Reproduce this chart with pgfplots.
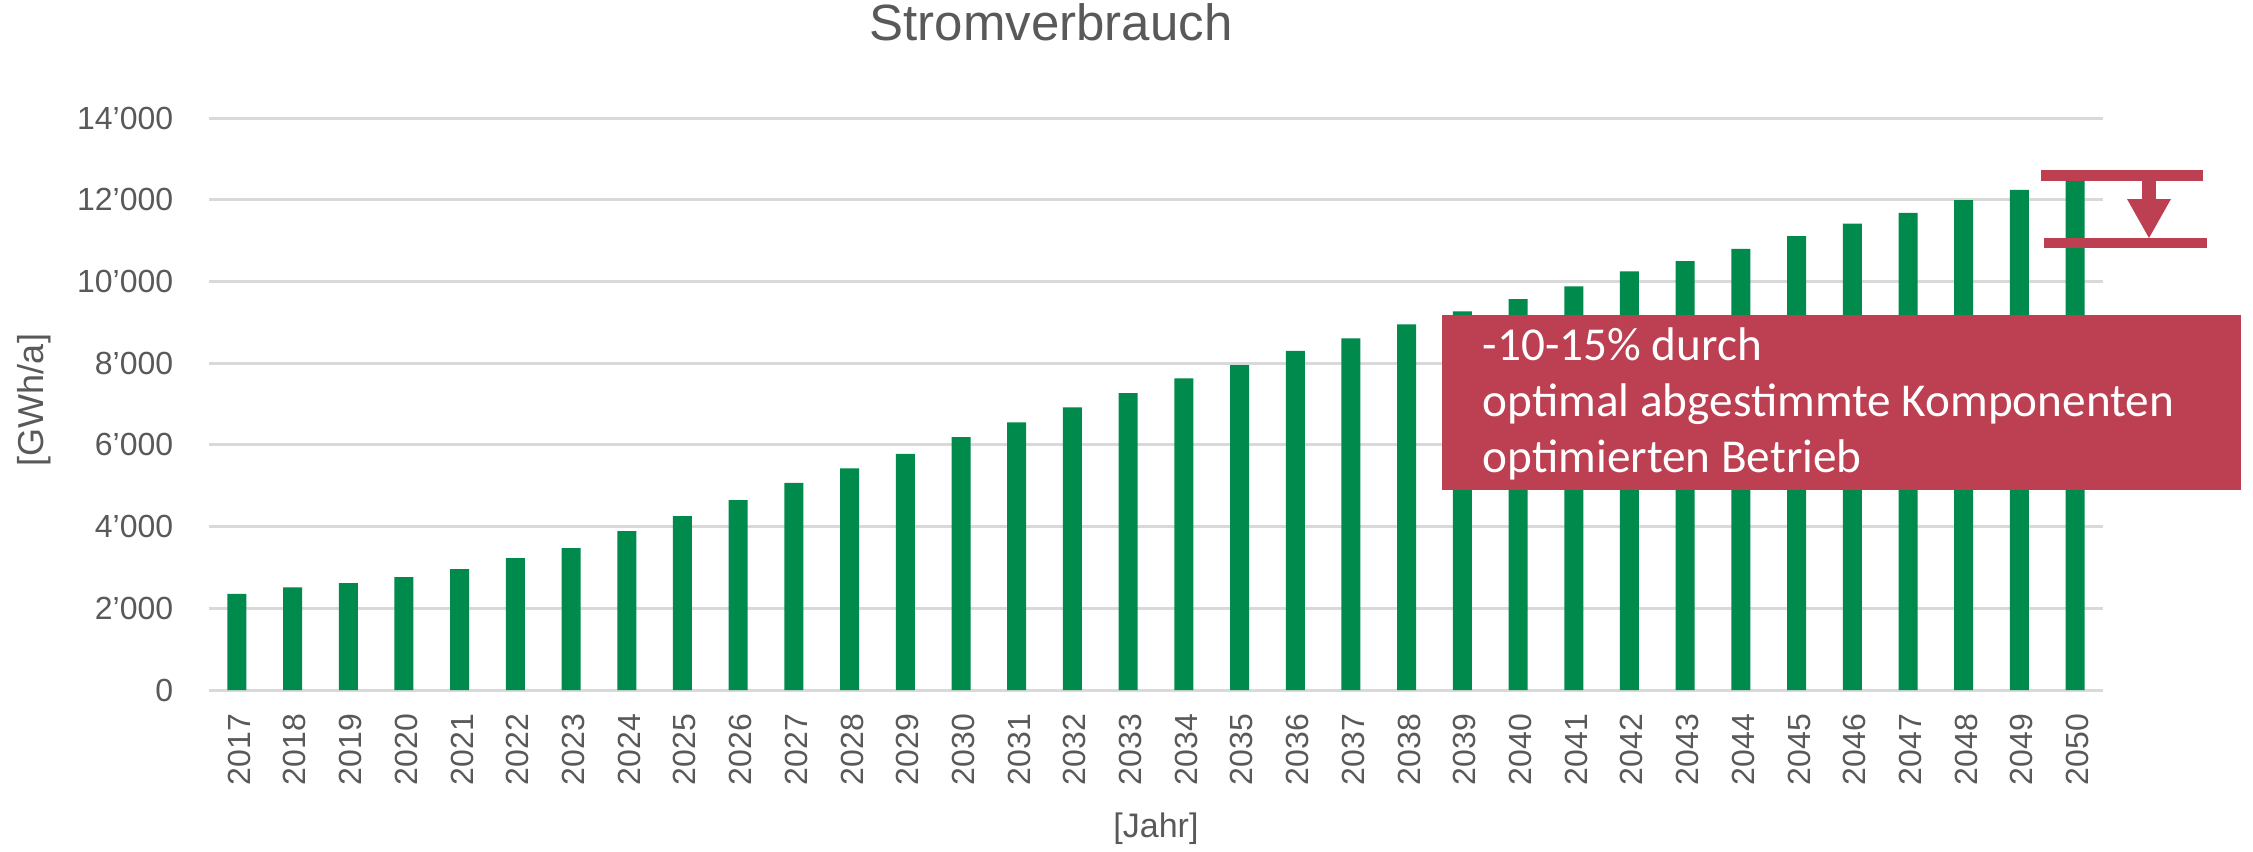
\documentclass[border=0pt]{standalone}
\usepackage{pgfplots}
\pgfplotsset{compat=1.18}
\usepackage{fontspec}
\setmainfont{Liberation Sans}
\newfontfamily\calibri{Carlito}
\definecolor{barg}{HTML}{008A4B}
\definecolor{redb}{HTML}{BD4052}
\definecolor{txt}{HTML}{595959}
\definecolor{grd}{HTML}{D9D9D9}
\begin{document}
\begin{tikzpicture}
\begin{scope}[x=0.25pt,y=0.25pt]
\useasboundingbox (0,0) rectangle (2253,851);
\end{scope}
\begin{axis}[
  at={(52.25pt,40.25pt)}, anchor=south west,
  scale only axis, width=473.5pt, height=143pt,
  xmin=-0.5, xmax=33.5, ymin=0, ymax=14000,
  ybar, bar width=4.75pt,
  axis line style={draw=none},
  major tick length=0pt,
  scaled y ticks=false,
  xtick={0,...,33},
  xticklabels={2017,2018,2019,2020,2021,2022,2023,2024,2025,2026,2027,2028,2029,2030,2031,2032,2033,2034,2035,2036,2037,2038,2039,2040,2041,2042,2043,2044,2045,2046,2047,2048,2049,2050},
  ytick={0,2000,4000,6000,8000,10000,12000,14000},
  yticklabels={0,2’000,4’000,6’000,8’000,10’000,12’000,14’000},
  ymajorgrids,
  grid style={draw=grd, line width=0.75pt},
  yticklabel style={font=\fontsize{8}{9.6}\selectfont, text=txt, inner xsep=0pt, xshift=-8.75pt},
  xticklabel style={font=\fontsize{8}{9.6}\selectfont, text=txt, yshift=-5.75pt, xshift=0.6pt, rotate=90, anchor=east, inner sep=0pt},
  clip=false,
]
\addplot[fill=barg, draw=none, bar shift=0pt] coordinates {
(0,2350) (1,2510) (2,2615) (3,2765) (4,2960) (5,3230) (6,3475) (7,3890) (8,4255) (9,4650)
(10,5070) (11,5425) (12,5780) (13,6190) (14,6550) (15,6915) (16,7265) (17,7625) (18,7950) (19,8300)
(20,8605) (21,8950) (22,9265) (23,9570) (24,9880) (25,10245) (26,10495) (27,10800) (28,11110) (29,11415)
(30,11680) (31,11990) (32,12240) (33,12490)
};
\end{axis}
\begin{scope}[x=0.25pt,y=0.25pt]
% title and axis labels
\node[anchor=base, text=txt, font=\fontsize{12.75}{15}\selectfont, inner sep=0pt] at (1051,811) {Stromverbrauch};
\node[text=txt, font=\fontsize{8.5}{10}\selectfont, inner sep=0pt] at (1156,22.5) {[Jahr]};
\node[text=txt, font=\fontsize{9}{10.8}\selectfont, inner sep=0pt, rotate=90] at (34.5,451) {[GWh/a]};
% annotation box
\fill[redb] (1442,361) rectangle (2241,536);
\node[anchor=base west, text=white, font=\calibri\fontsize{11.8}{14}\selectfont, inner sep=0pt] at (1482,491) {-10-15\% durch};
\node[anchor=base west, text=white, font=\calibri\fontsize{11.8}{14}\selectfont, inner sep=0pt] at (1482,435) {optimal abgestimmte Komponenten};
\node[anchor=base west, text=white, font=\calibri\fontsize{11.8}{14}\selectfont, inner sep=0pt] at (1482,379) {optimierten Betrieb};
% reduction marker
\fill[redb] (2041,670) rectangle (2203,681);
\fill[redb] (2044,603) rectangle (2207,613);
\fill[redb] (2142,652) rectangle (2156,671);
\fill[redb] (2127,652) -- (2171,652) -- (2149,613) -- cycle;
\end{scope}
\end{tikzpicture}
\end{document}
